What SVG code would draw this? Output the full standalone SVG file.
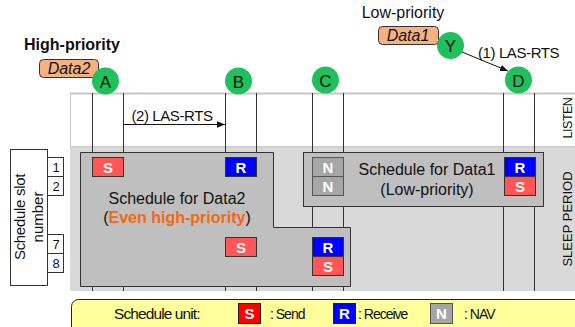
<svg xmlns="http://www.w3.org/2000/svg" width="575" height="327" viewBox="0 0 575 327">
  <defs>
    <marker id="arrow" viewBox="0 0 10 10" refX="10" refY="5" markerWidth="8" markerHeight="8" markerUnits="userSpaceOnUse" orient="auto">
      <path d="M0,1 L10,5 L0,9 Z" fill="#111"/>
    </marker>
    <style>
      text { font-family: "Liberation Sans", Arial, sans-serif; fill: #111; }
      .node { fill: #20c05c; }
      .nodelbl { font-size: 17px; text-anchor: middle; }
      .data { fill: #f5b183; stroke: #333; stroke-width: 1; }
      .datalbl { font-size: 16px; font-style: italic; text-anchor: middle; }
      .sched { fill: #bfbfbf; stroke: #333; stroke-width: 1; }
      .slot { fill: #fff; stroke: #333; stroke-width: 1; }
      .slotlbl { font-size: 13px; text-anchor: middle; }
      .cellS { fill: #ff5757; stroke: #333; stroke-width: 1; }
      .cellR { fill: #0000ff; stroke: #333; stroke-width: 1; }
      .cellN { fill: #a6a6a6; stroke: #555; stroke-width: 1; }
      .celllbl { font-size: 15px; font-weight: bold; fill: #fff; text-anchor: middle; }
      .vline { stroke: #333; stroke-width: 1; }
      .conn { stroke: #111; stroke-width: 1; fill: none; }
      .big { font-size: 16px; text-anchor: middle; }
      .lgd { font-size: 14px; letter-spacing: -1px; }
    </style>
  </defs>

  <rect width="575" height="327" fill="#fff"/>

  <!-- listen / sleep bands -->
  <g id="bands">
    <rect x="70" y="93" width="510" height="54" fill="#fff"/>
    <line x1="70" y1="93.5" x2="575" y2="93.5" stroke="#c8c8c8" stroke-width="2"/>
    <line x1="70.5" y1="93" x2="70.5" y2="147" stroke="#c8c8c8" stroke-width="1"/>
    <rect x="70" y="147" width="510" height="144" fill="#d9d9d9"/>
    <line x1="70" y1="146.5" x2="575" y2="146.5" stroke="#c8c8c8" stroke-width="1"/>
    <text transform="translate(572,118) rotate(-90)" font-size="12.5" text-anchor="middle" letter-spacing="-0.5">LISTEN</text>
    <text transform="translate(572,219) rotate(-90)" font-size="13" text-anchor="middle">SLEEP PERIOD</text>
  </g>

  <!-- node time lines -->
  <g id="timelines">
    <line class="vline" x1="92.5" y1="93" x2="92.5" y2="291"/>
    <line class="vline" x1="123.5" y1="93" x2="123.5" y2="291"/>
    <line class="vline" x1="225.5" y1="93" x2="225.5" y2="291"/>
    <line class="vline" x1="256.5" y1="93" x2="256.5" y2="291"/>
    <line class="vline" x1="312.5" y1="93" x2="312.5" y2="291"/>
    <line class="vline" x1="343.5" y1="93" x2="343.5" y2="291"/>
    <line class="vline" x1="503.5" y1="93" x2="503.5" y2="291"/>
    <line class="vline" x1="534.5" y1="93" x2="534.5" y2="291"/>
  </g>

  <!-- schedule for Data2 -->
  <g id="sched-data2">
    <path class="sched" d="M80.5,152.5 H273.5 V227.5 H350.5 V286.5 H80.5 Z"/>
    <text class="big" x="177" y="204">Schedule for Data2</text>
    <text class="big" x="177" y="223">(<tspan font-weight="bold" fill="#f06a14" style="fill:#f06a14">Even high-priority</tspan>)</text>
    <rect class="cellS" x="92.5" y="157.5" width="31" height="19"/>
    <text class="celllbl" x="108" y="173">S</text>
    <rect class="cellR" x="225.5" y="157.5" width="31" height="19"/>
    <text class="celllbl" x="241" y="173">R</text>
    <rect class="cellS" x="225.5" y="237.5" width="31" height="19"/>
    <text class="celllbl" x="241" y="253">S</text>
    <rect class="cellR" x="312.5" y="237.5" width="31" height="19"/>
    <text class="celllbl" x="328" y="253">R</text>
    <rect class="cellS" x="312.5" y="256.5" width="31" height="19"/>
    <text class="celllbl" x="328" y="272">S</text>
  </g>

  <!-- schedule for Data1 -->
  <g id="sched-data1">
    <rect class="sched" x="303.5" y="152.5" width="240" height="54"/>
    <text class="big" x="427" y="175">Schedule for Data1</text>
    <text class="big" x="427" y="195">(Low-priority)</text>
    <rect class="cellN" x="312.5" y="157.5" width="31" height="19"/>
    <text class="celllbl" x="328" y="173">N</text>
    <rect class="cellN" x="312.5" y="176.5" width="31" height="19"/>
    <text class="celllbl" x="328" y="192">N</text>
    <rect class="cellR" x="504.5" y="157.5" width="31" height="19"/>
    <text class="celllbl" x="520" y="173">R</text>
    <rect class="cellS" x="504.5" y="176.5" width="31" height="19"/>
    <text class="celllbl" x="520" y="192">S</text>
  </g>

  <!-- schedule slot numbers -->
  <g id="slot-numbers">
    <rect class="slot" x="10.5" y="149.5" width="37" height="136"/>
    <text transform="translate(24.5,217) rotate(-90)" font-size="15" text-anchor="middle" letter-spacing="-0.3">Schedule slot</text>
    <text transform="translate(42.5,217) rotate(-90)" font-size="15" text-anchor="middle">number</text>
    <rect class="slot" x="47.5" y="157.5" width="16" height="19"/>
    <text class="slotlbl" x="56" y="172">1</text>
    <rect class="slot" x="47.5" y="176.5" width="16" height="19"/>
    <text class="slotlbl" x="56" y="191">2</text>
    <rect class="slot" x="47.5" y="234.5" width="16" height="19"/>
    <text class="slotlbl" x="56" y="249">7</text>
    <rect class="slot" x="47.5" y="253.5" width="16" height="19"/>
    <text class="slotlbl" x="56" y="268">8</text>
  </g>

  <!-- connectors -->
  <g id="connectors">
    <line class="conn" x1="123" y1="124.5" x2="225" y2="124.5" marker-end="url(#arrow)"/>
    <text x="172" y="121" font-size="15" text-anchor="middle" letter-spacing="-0.4">(2) LAS-RTS</text>
    <line class="conn" x1="462" y1="52" x2="508" y2="71" marker-end="url(#arrow)"/>
    <text x="478" y="58" font-size="15" letter-spacing="-0.4">(1) LAS-RTS</text>
  </g>

  <!-- data labels -->
  <g id="data2">
    <text x="72" y="50" font-size="16" font-weight="bold" text-anchor="middle">High-priority</text>
    <rect class="data" x="39.5" y="59.5" width="59" height="18" rx="4"/>
    <text class="datalbl" x="69" y="74">Data2</text>
  </g>
  <g id="data1">
    <text x="403" y="18" font-size="16" text-anchor="middle">Low-priority</text>
    <rect class="data" x="378.5" y="26.5" width="60" height="18" rx="4"/>
    <text class="datalbl" x="408" y="41">Data1</text>
  </g>

  <!-- nodes -->
  <g id="node-A"><circle class="node" cx="105.5" cy="81" r="13.5"/><text class="nodelbl" x="105.5" y="87.5">A</text></g>
  <g id="node-B"><circle class="node" cx="238.5" cy="81" r="13.5"/><text class="nodelbl" x="238.5" y="87.5">B</text></g>
  <g id="node-C"><circle class="node" cx="325.5" cy="80" r="13.5"/><text class="nodelbl" x="325.5" y="86.5">C</text></g>
  <g id="node-D"><circle class="node" cx="518.5" cy="80" r="13.5"/><text class="nodelbl" x="518.5" y="86.5">D</text></g>
  <g id="node-Y"><circle class="node" cx="450.5" cy="45.5" r="13.5"/><text class="nodelbl" x="450.5" y="52">Y</text></g>

  <!-- legend -->
  <g id="legend">
    <rect x="71.5" y="299.5" width="520" height="40" rx="7" fill="#ffff9c" stroke="#222" stroke-width="1"/>
    <text x="114" y="319" font-size="15.5" letter-spacing="-0.9">Schedule unit:</text>
    <rect x="238.5" y="303.5" width="22" height="20" fill="#ff0000" stroke="#222"/>
    <text class="celllbl" x="249.5" y="319">S</text>
    <text class="lgd" x="270" y="319">: Send</text>
    <rect x="333.5" y="303.5" width="22" height="20" fill="#0000ff" stroke="#222"/>
    <text class="celllbl" x="344.5" y="319">R</text>
    <text class="lgd" x="358" y="319">: Receive</text>
    <rect x="430.5" y="303.5" width="22" height="20" fill="#a6a6a6" stroke="#555"/>
    <text class="celllbl" x="441.5" y="319">N</text>
    <text class="lgd" x="464" y="319">: NAV</text>
  </g>
</svg>
